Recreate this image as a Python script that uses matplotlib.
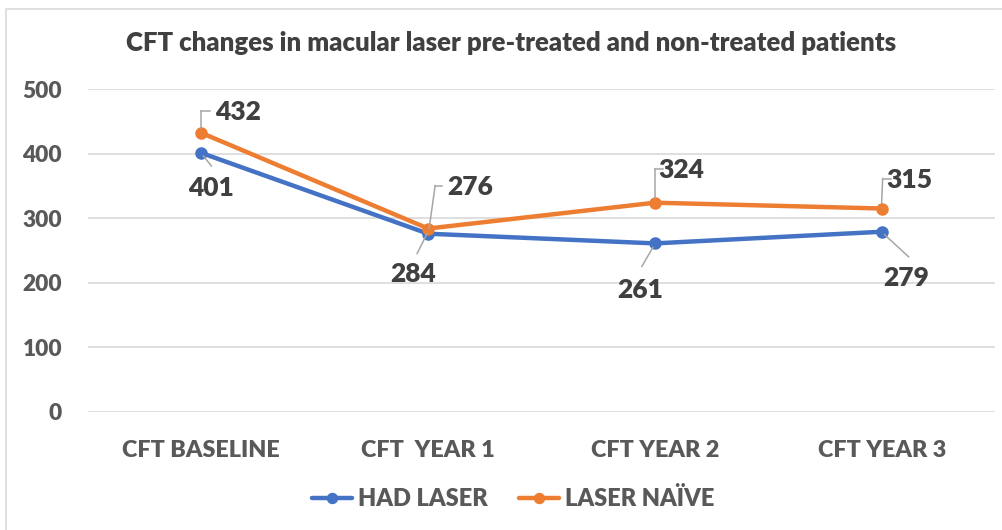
import matplotlib
matplotlib.use("Agg")
import matplotlib.pyplot as plt
from matplotlib.patches import Rectangle
from matplotlib.lines import Line2D

categories = ["CFT BASELINE", "CFT  YEAR 1", "CFT YEAR 2", "CFT YEAR 3"]
had_laser = [401, 276, 261, 279]
laser_naive = [432, 284, 324, 315]
y_ticks = [0, 100, 200, 300, 400, 500]

BLUE = "#4472C4"
ORANGE = "#ED7D31"
GRID = "#D9D9D9"
TXT = "#595959"
LBL = "#404040"
LEAD = "#A6A6A6"
BW = 800  # bold weight for Lato

plt.rcParams['font.family'] = ['Lato', 'DejaVu Sans']

W, H = 1002, 530
fig = plt.figure(figsize=(W/100, H/100), dpi=100)
ax = fig.add_axes([88/W, 1-412/H, 907/W, 323/H])

x = list(range(len(categories)))
ax.plot(x, had_laser, color=BLUE, lw=3.2, marker='o', ms=8, label="HAD LASER", zorder=3,
        solid_capstyle='round')
ax.plot(x, laser_naive, color=ORANGE, lw=3.2, marker='o', ms=8, label="LASER NAÏVE", zorder=4,
        solid_capstyle='round')

ax.set_xlim(-0.5, len(categories) - 0.5)
ax.set_ylim(0, 500)
ax.set_yticks(y_ticks)
ax.set_xticks(x)
ax.set_xticklabels(categories)
ax.tick_params(axis='y', length=0, pad=26*0.72, labelsize=16.3, labelcolor=TXT)
ax.tick_params(axis='x', length=0, pad=20, labelsize=16.8, labelcolor=TXT)
for lab in ax.get_xticklabels() + ax.get_yticklabels():
    lab.set_fontweight(BW)
ax.grid(axis='y', color=GRID, lw=1.2)
ax.set_axisbelow(True)
for s in ax.spines.values():
    s.set_visible(False)


def leader(xi, yv, pts):
    # pts: pixel offsets (dx, dy downward) relative to the data point
    fig.canvas.draw()
    base = ax.transData.transform((xi, yv))
    for i in range(len(pts) - 1):
        (dx1, dy1), (dx2, dy2) = pts[i], pts[i + 1]
        p1 = base + [dx1, -dy1]
        p2 = base + [dx2, -dy2]
        fig.add_artist(Line2D([p1[0] / W, p2[0] / W], [p1[1] / H, p2[1] / H],
                              transform=fig.transFigure, color=LEAD, lw=1.1, zorder=1))


def txt(xi, yv, text, dx, dy):
    ax.annotate(text, xy=(xi, yv), xytext=(dx, -dy), textcoords='offset pixels',
                ha='center', va='center', fontsize=19, fontweight=BW, color=LBL,
                zorder=6)


# Orange labels above (except year 1)
txt(0, laser_naive[0], str(laser_naive[0]), 37, -21)
leader(0, laser_naive[0], [(9, -22), (0, -22), (0, -5)])
txt(2, laser_naive[2], str(laser_naive[2]), 26, -33)
leader(2, laser_naive[2], [(8, -34), (0, -34), (0, -5)])
txt(3, laser_naive[3], str(laser_naive[3]), 28, -29)
leader(3, laser_naive[3], [(9, -30), (1, -30), (0, -5)])
txt(1, laser_naive[1], str(laser_naive[1]), -15, 45)
leader(1, laser_naive[1], [(-11, 25), (-1, 5)])

# Blue labels below (except year 1)
txt(0, had_laser[0], str(had_laser[0]), 10, 35)
leader(0, had_laser[0], [(10, 13), (2, 3)])
txt(2, had_laser[2], str(had_laser[2]), -15, 47)
leader(2, had_laser[2], [(-13, 23), (-2, 4)])
txt(3, had_laser[3], str(had_laser[3]), 25, 46)
leader(3, had_laser[3], [(27, 25), (3, 3)])
txt(1, had_laser[1], str(had_laser[1]), 42, -47)
leader(1, had_laser[1], [(14, -48), (7, -48), (1, -5)])

fig.text(511/W, 1-43/H, "CFT changes in macular laser pre-treated and non-treated patients",
         ha='center', va='center', fontsize=18.5, fontweight=BW, color=LBL)

leg = fig.legend(loc='center', bbox_to_anchor=(513/W, 1-499/H), ncol=2, frameon=False,
                 prop={'size': 17, 'weight': BW}, handlelength=1.7, columnspacing=1.3,
                 handletextpad=0.25, markerscale=0.9, borderpad=0.2)
for t in leg.get_texts():
    t.set_color(TXT)

fig.add_artist(Rectangle((6/W, -0.1), 1.2, 1 - 9/H + 0.1, transform=fig.transFigure,
                         fill=False, edgecolor=GRID, lw=1.2))

fig.savefig("out.png", dpi=100)
